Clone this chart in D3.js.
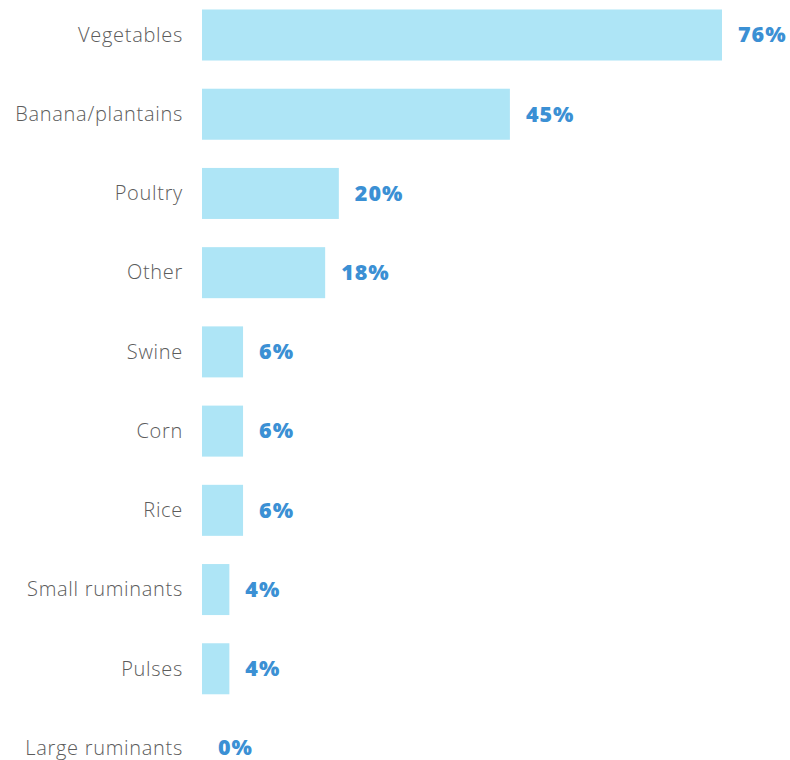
<!DOCTYPE html>
<html>
<head>
<meta charset="utf-8">
<script src="https://cdn.jsdelivr.net/npm/d3@7"></script>
<style>
  html, body { margin: 0; padding: 0; background: #fff; }
  svg { display: block; }
</style>
</head>
<body>
<div id="chart"></div>
<script>
const categories = ["Vegetables", "Banana/plantains", "Poultry", "Other", "Swine", "Corn", "Rice", "Small ruminants", "Pulses", "Large ruminants"];
const values = [76, 45, 20, 18, 6, 6, 6, 4, 4, 0];

const width = 790, height = 760;
const barLeft = 202, barRight = 722;

const svg = d3.select("#chart").append("svg")
  .attr("width", width)
  .attr("height", height);

const x = d3.scaleLinear()
  .domain([0, 76])
  .range([barLeft, barRight]);

const y = d3.scaleBand()
  .domain(categories)
  .range([-4.6, 787.6])
  .paddingInner(0.356)
  .paddingOuter(0.178);

const data = categories.map((c, i) => ({ cat: c, val: values[i] }));

svg.append("g").selectAll("rect")
  .data(data)
  .join("rect")
  .attr("x", x(0))
  .attr("y", d => y(d.cat))
  .attr("width", d => x(d.val) - x(0))
  .attr("height", y.bandwidth())
  .attr("fill", "#aee5f6");

const yAxis = d3.axisLeft(y).tickSize(0).tickPadding(19);
const gy = svg.append("g")
  .attr("transform", `translate(${x(0)},0)`)
  .call(yAxis);
gy.select(".domain").remove();
gy.selectAll("text")
  .attr("fill", "#5c5c5c")
  .attr("dy", "0.34em")
  .style("font-family", "'Open Sans', sans-serif")
  .style("font-size", "20px")
  .style("letter-spacing", "0.7px")
  .style("font-weight", "300");

svg.append("g").selectAll("text")
  .data(data)
  .join("text")
  .attr("x", d => x(d.val) + 16)
  .attr("y", d => y(d.cat) + y.bandwidth() / 2)
  .attr("dy", "0.34em")
  .attr("fill", "#3b90d4")
  .style("font-family", "'Open Sans', sans-serif")
  .style("font-size", "21.5px")
  .style("letter-spacing", "1px")
  .style("font-weight", "800")
  .text(d => d.val + "%");
</script>
</body>
</html>
